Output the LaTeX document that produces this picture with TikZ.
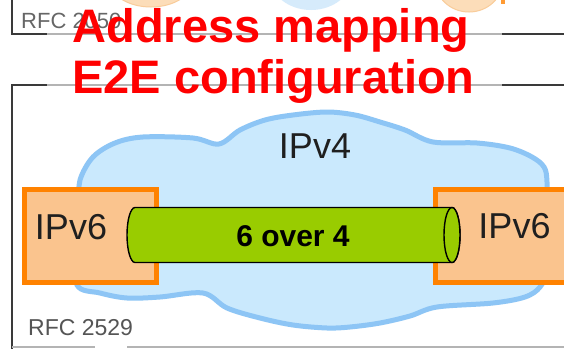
\documentclass[tikz,border=0pt]{standalone}
\usepackage{fontspec}
\setmainfont{Liberation Sans}
\definecolor{cloudfill}{HTML}{CAE9FD}
\definecolor{cloudline}{HTML}{8DC5F5}
\definecolor{peach}{HTML}{FAC48E}
\definecolor{boxorange}{HTML}{FF8200}
\definecolor{tubegreen}{HTML}{99CC00}
\definecolor{framedk}{HTML}{3A3A3A}
\definecolor{framelt}{HTML}{B4B4B4}
\definecolor{fadeorange}{HTML}{FCDDB9}
\definecolor{fadeorangeline}{HTML}{F9CC9A}
\definecolor{fadeblue}{HTML}{D6EBFB}
\definecolor{rfcgray}{HTML}{555555}
\begin{document}
\begin{tikzpicture}[x=1pt,y=-1pt,
  framedark/.style={draw=framedk,line width=1.6pt},
  framegray/.style={draw=framelt,line width=1.6pt},
  cloudsty/.style={fill=cloudfill,draw=cloudline,line width=5pt},
  boxsty/.style={fill=peach,draw=boxorange,line width=5.5pt,inner sep=0pt,outer sep=0pt},
  tubesty/.style={fill=tubegreen,draw=black,line width=1.4pt},
  lbl/.style={inner sep=0pt,font=\fontsize{36}{40}\selectfont,text=black!88},
  title/.style={inner sep=0pt,anchor=base,text=red,font=\bfseries\fontsize{47}{52}\selectfont},
  rfc/.style={inner sep=0pt,anchor=base west,text=rfcgray}]
\clip (0,0) rectangle (564,348);
\fill[white] (0,0) rectangle (564,348);
% remnants of the diagram above
\fill[fadeorange,draw=fadeorangeline,line width=1pt] (151,-20) ellipse [x radius=42pt,y radius=27pt];
\fill[fadeblue] (311,-25) ellipse [x radius=42pt,y radius=35pt];
\fill[fadeorange,draw=fadeorangeline,line width=1pt] (469,-20) ellipse [x radius=34pt,y radius=32pt];
\fill[boxorange!80] (501,-2) rectangle (505,4);
\draw[framedark] (12,0) -- (12,34) -- (47,34);
\draw[framegray] (47,34) -- (502,34);
\draw[framedark] (502,34) -- (564,34);
\node[rfc,text=black!60,font=\fontsize{22}{24}\selectfont] (rfcold) at (21,28) {RFC 2050};
% frame of this diagram
\draw[framedark] (12,349) -- (12,85) -- (47,85);
\draw[framegray] (47,85) -- (502,85);
\draw[framedark] (502,85) -- (564,85);
\draw[draw=framelt,line width=1.2pt] (12,347) -- (95,347);
\draw[draw=framelt,line width=1.2pt] (127,347) -- (564,347);
% cloud
\draw[cloudsty] plot[smooth cycle,tension=0.55] coordinates {
  (79,205) (80,180) (93,157) (115,143) (143,137) (193,138) (219,144)
  (240,130) (265,120) (293,115) (327,112) (355,115) (380,122) (405,130) (433,142)
  (477,143) (510,148) (532,157) (544,167) (547,182) (547,220) (546,270)
  (540,287) (525,297) (493,303) (437,307) (410,316) (380,323) (350,327)
  (327,328) (293,325) (260,318) (227,308) (203,293) (160,297) (127,298)
  (100,293) (77,285) (76,245)};
\node[lbl,anchor=base] (ipv4) at (315,158) {IPv4};
% end boxes
\node[boxsty,minimum width=132pt,minimum height=93pt] (lbox) at (90.5,236) {};
\node[boxsty,minimum width=160pt,minimum height=93pt] (rbox) at (515.5,236) {};
\node[lbl,anchor=base] (lv6) at (71,239) {IPv6};
\node[lbl,anchor=base] (rv6) at (514.5,238) {IPv6};
% tunnel
\path[tubesty] (135,207.5) -- (452,207.5)
  arc[start angle=90,end angle=-90,x radius=8pt,y radius=27.5pt]
  -- (135,262.5)
  arc[start angle=270,end angle=90,x radius=8pt,y radius=27.5pt] -- cycle;
\draw[tubesty] (452,235) ellipse [x radius=8pt,y radius=27.5pt];
\node[inner sep=0pt,anchor=base,font=\bfseries\fontsize{30}{34}\selectfont] (tun) at (293,246) {6 over 4};
\node[rfc,font=\fontsize{23}{26}\selectfont] (rfc) at (28,335) {RFC 2529};
% title
\node[title] (t1) at (271,42.5) {Address mapping};
\node[title] (t2) at (273.5,93.5) {E2E configuration};
\end{tikzpicture}
\end{document}
